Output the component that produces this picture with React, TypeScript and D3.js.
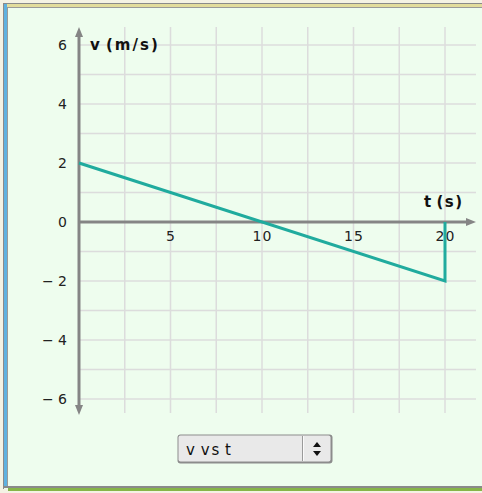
import React from "react";
import * as d3 from "d3";

// velocity vs time samples
const timeValues = [0, 20, 20];
const velocityValues = [2, -2, 0];

const yTickValues = [-6, -4, -2, 0, 2, 4, 6];
const xTickValues = [5, 10, 15, 20];
const xGridValues = [2.5, 5, 7.5, 10, 12.5, 15, 17.5, 20];
const yGridValues = [-6, -5, -4, -3, -2, -1, 1, 2, 3, 4, 5, 6];

const W = 482;
const H = 493;

export default function App() {
  const x = d3.scaleLinear().domain([0, 20]).range([79, 445]);
  const y = d3.scaleLinear().domain([-6, 6]).range([399, 45]);

  const line = d3
    .line<number>()
    .x((_, i) => x(timeValues[i]))
    .y((d) => y(d));

  const axisColor = "#858585";
  const gridColor = "#dcdcdc";
  const font = "'DejaVu Sans', Verdana, sans-serif";
  const fmt = (v: number) => (v < 0 ? `\u2212 ${Math.abs(v)}` : `${v}`);

  const gridTop = 27;
  const gridBottom = 413;
  const gridRight = 476;

  return (
    <svg
      width={W}
      height={H}
      style={{ position: "absolute", left: 0, top: 0, display: "block" }}
    >
      <rect x={0} y={0} width={W} height={H} fill="#f4f2e4" />
      <rect x={3} y={3} width={W - 3} height={486} fill="#eefdee" />
      {/* frame */}
      <rect x={3} y={3} width={W - 3} height={1} fill="#8a8a8a" />
      <rect x={4} y={4} width={W - 4} height={3} fill="#e2dc9c" />
      <rect x={7} y={7} width={W - 7} height={1} fill="#9a9a9a" />
      <rect x={3} y={3} width={1} height={486} fill="#8a8a8a" />
      <rect x={4} y={4} width={3} height={483} fill="#5fb1e0" />
      <rect x={7} y={7} width={1} height={480} fill="#9a9a9a" />
      <rect x={3} y={486} width={W - 3} height={2} fill="#8a8a8a" />
      <rect x={8} y={488} width={W - 8} height={3} fill="#86b548" />

      {/* grid */}
      {yGridValues.map((v) => (
        <line
          key={"h" + v}
          x1={x(0)}
          x2={gridRight}
          y1={y(v)}
          y2={y(v)}
          stroke={gridColor}
          strokeWidth={1.5}
        />
      ))}
      {xGridValues.map((v) => (
        <line
          key={"v" + v}
          x1={x(v)}
          x2={x(v)}
          y1={gridTop}
          y2={gridBottom}
          stroke={gridColor}
          strokeWidth={1.5}
        />
      ))}

      {/* axes */}
      <line x1={x(0)} x2={468} y1={y(0)} y2={y(0)} stroke={axisColor} strokeWidth={3} />
      <path d={`M476,${y(0)} L466,${y(0) - 4} L466,${y(0) + 4} Z`} fill={axisColor} />
      <line x1={x(0)} x2={x(0)} y1={34} y2={408} stroke={axisColor} strokeWidth={3} />
      <path d={`M${x(0)},27 L${x(0) - 4},37 L${x(0) + 4},37 Z`} fill={axisColor} />
      <path d={`M${x(0)},415 L${x(0) - 4},405 L${x(0) + 4},405 Z`} fill={axisColor} />

      {/* tick labels */}
      {yTickValues.map((v) => (
        <text
          key={"yt" + v}
          x={67}
          y={y(v)}
          dy="0.36em"
          textAnchor="end"
          fontFamily={font}
          fontSize={14}
          fill="#222"
        >
          {fmt(v)}
        </text>
      ))}
      {xTickValues.map((v) => (
        <text
          key={"xt" + v}
          x={x(v) + 0.5}
          y={241}
          textAnchor="middle"
          fontFamily={font}
          fontSize={14}
          letterSpacing={1}
          fill="#222"
        >
          {v}
        </text>
      ))}

      {/* axis titles */}
      <text x={90} y={50} fontFamily={font} fontSize={15} fontWeight="bold" letterSpacing={2} wordSpacing={-3} fill="#111">
        v (m/s)
      </text>
      <text x={424} y={207} fontFamily={font} fontSize={15} fontWeight="bold" letterSpacing={1.5} wordSpacing={-3} fill="#111">
        t (s)
      </text>

      {/* series */}
      <path
        d={line(velocityValues) ?? ""}
        fill="none"
        stroke="#20ab9e"
        strokeWidth={3}
        strokeLinejoin="miter"
      />

      {/* graph selector */}
      <g>
        <rect x={177.5} y={434.5} width={155} height={29} rx={3} fill="#8c8c8c" />
        <rect x={178.5} y={435.5} width={152} height={26} rx={2} fill="#e9e9e9" />
        <line x1={302.5} x2={302.5} y1={436} y2={461} stroke="#9a9a9a" strokeWidth={1} />
        <line x1={303.5} x2={303.5} y1={436} y2={461} stroke="#fafafa" strokeWidth={1} />
        <text x={186} y={455} fontFamily={font} fontSize={15} letterSpacing={2} wordSpacing={-3} fill="#111">
          v vs t
        </text>
        <path d="M313,447 L317,442 L321,447 Z" fill="#111" />
        <path d="M313,451 L317,456 L321,451 Z" fill="#111" />
      </g>
    </svg>
  );
}
